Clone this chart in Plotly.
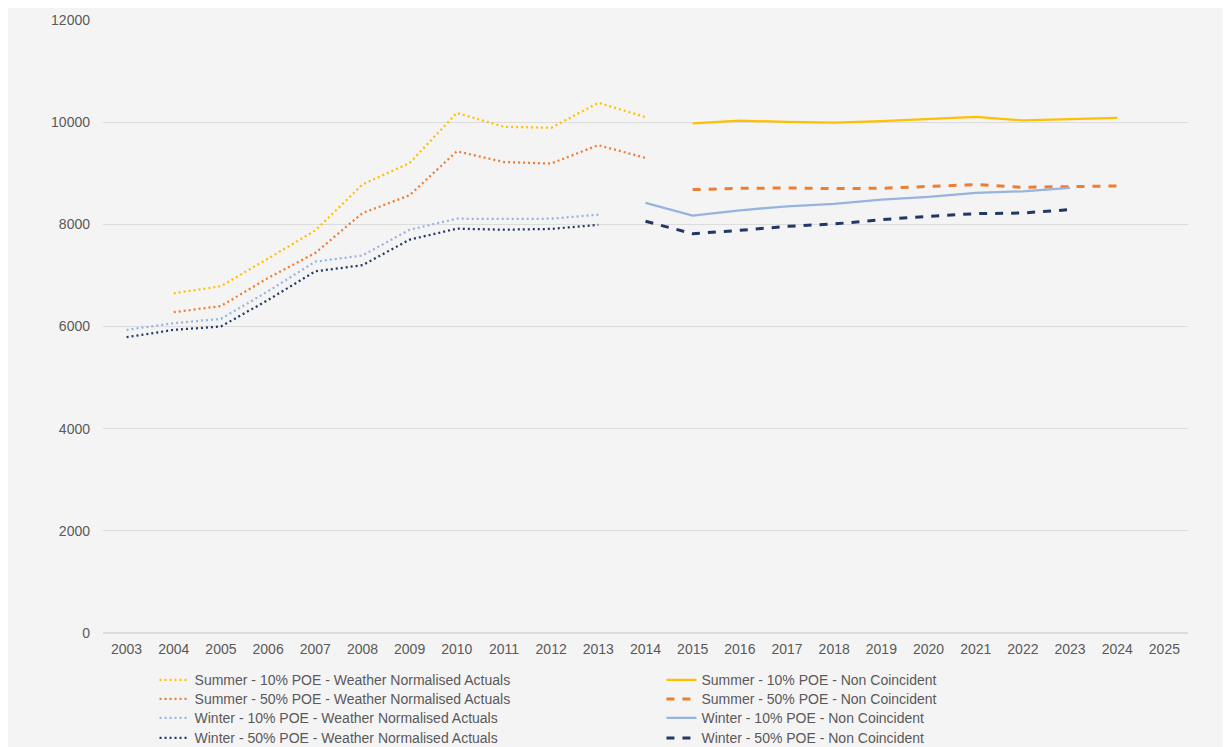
import plotly.graph_objects as go

years = [str(y) for y in range(2003, 2026)]

# Weather Normalised Actuals (2003-2014)
summer10_wna = [None, 6650, 6790, 7330, 7880, 8780, 9200, 10180, 9910, 9890, 10380, 10100]
summer50_wna = [None, 6280, 6400, 6950, 7440, 8220, 8570, 9430, 9220, 9190, 9550, 9300]
winter10_wna = [5935, 6065, 6150, 6690, 7270, 7390, 7895, 8110, 8105, 8110, 8190]
winter50_wna = [5790, 5935, 6000, 6520, 7080, 7200, 7700, 7915, 7895, 7910, 7990]

# Non Coincident forecasts
summer10_nc = [9975, 10030, 10005, 9993, 10020, 10065, 10105, 10033, 10052, 10085]   # 2015-2024
summer50_nc = [8680, 8705, 8712, 8700, 8706, 8745, 8778, 8725, 8732, 8752]           # 2015-2024
winter10_nc = [8420, 8170, 8275, 8353, 8400, 8484, 8536, 8614, 8647, 8712]           # 2014-2023
winter50_nc = [8060, 7817, 7882, 7961, 8007, 8092, 8157, 8209, 8222, 8288]           # 2014-2023

yrs_wna = years[:12]
yrs_s_nc = years[12:22]
yrs_w_nc = years[11:21]

y_ticks = [0, 2000, 4000, 6000, 8000, 10000, 12000]

YELLOW = "#FFC000"
ORANGE = "#ED7D31"
LBLUE = "#97B4DF"
NAVY = "#1F3864"
BG = "#F5F4F5"
TXT = "#595959"
FONT = "Liberation Sans, Arial, sans-serif"
DOT = "2px,3px"
DASH = "8px,8px"

fig = go.Figure()

def add(x, y, name, color, dash, width, legend):
    fig.add_trace(go.Scatter(x=x, y=y, name=name, mode="lines",
                             line=dict(color=color, dash=dash, width=width),
                             legend=legend, showlegend=True, connectgaps=False))

add(yrs_wna, summer10_wna, "Summer - 10% POE - Weather Normalised Actuals", YELLOW, DOT, 2.25, "legend")
add(yrs_wna, summer50_wna, "Summer - 50% POE - Weather Normalised Actuals", ORANGE, DOT, 2.25, "legend2")
add(yrs_wna[:11], winter10_wna, "Winter - 10% POE - Weather Normalised Actuals", LBLUE, DOT, 2.25, "legend3")
add(yrs_wna[:11], winter50_wna, "Winter - 50% POE - Weather Normalised Actuals", NAVY, DOT, 2.25, "legend4")

add(yrs_s_nc, summer10_nc, "Summer - 10% POE - Non Coincident", YELLOW, "solid", 2.25, "legend5")
add(yrs_s_nc, summer50_nc, "Summer - 50% POE - Non Coincident", ORANGE, DASH, 3, "legend6")
add(yrs_w_nc, winter10_nc, "Winter - 10% POE - Non Coincident", LBLUE, "solid", 2.25, "legend7")
add(yrs_w_nc, winter50_nc, "Winter - 50% POE - Non Coincident", NAVY, DASH, 3, "legend8")

legend_common = dict(orientation="v", bgcolor="rgba(0,0,0,0)",
                     font=dict(family=FONT, size=14, color=TXT),
                     tracegroupgap=0, itemwidth=30, yanchor="top", xanchor="left")

row_y = [-0.0511, -0.0821, -0.1131, -0.1457]
col_x = [0.0475, 0.5147]

legends = {}
for i in range(8):
    key = "legend" if i == 0 else f"legend{i + 1}"
    legends[key] = dict(x=col_x[i // 4], y=row_y[i % 4], **legend_common)

fig.update_layout(
    width=1223, height=739,
    showlegend=True,
    margin=dict(l=95, r=43, t=12, b=114, autoexpand=False),
    paper_bgcolor=BG, plot_bgcolor=BG,
    font=dict(family=FONT, size=14, color=TXT),
    xaxis=dict(type="category", categoryorder="array", categoryarray=years,
               range=[-0.5, 22.5], showgrid=False, showline=False, ticks="",
               ticklabelstandoff=6, tickfont=dict(size=14, color=TXT), fixedrange=True),
    yaxis=dict(range=[0, 12000], tickvals=y_ticks, ticktext=[str(v) for v in y_ticks],
               showgrid=True, gridcolor="#DCDCDC", gridwidth=1, zeroline=True,
               zerolinecolor="#DCDCDC", showline=False, ticks="", ticklabelstandoff=12,
               tickfont=dict(size=14, color=TXT), fixedrange=True),
    **legends,
)

fig.write_html("out.html")
